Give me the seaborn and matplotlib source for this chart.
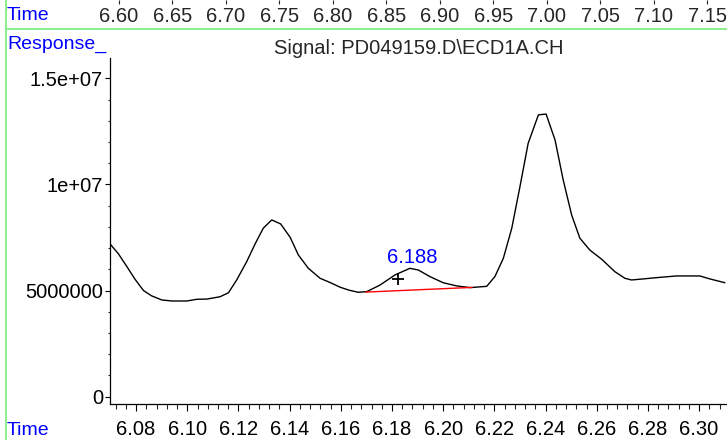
import matplotlib
matplotlib.use('Agg')
import matplotlib.pyplot as plt
import seaborn as sns
from matplotlib.lines import Line2D
from matplotlib.ticker import MultipleLocator, FuncFormatter

# chromatogram trace (time in min, response)
times = [6.0698, 6.0731, 6.0764, 6.0796, 6.0829, 6.0861, 6.0900, 6.0940, 6.0998,
         6.1037, 6.1076, 6.1128, 6.1161, 6.1193, 6.1232, 6.1265, 6.1297, 6.1330,
         6.1365, 6.1402, 6.1434, 6.1473, 6.1519, 6.1558, 6.1597, 6.1632, 6.1668,
         6.1701, 6.1753, 6.1812, 6.1870, 6.1903, 6.1948, 6.2000, 6.2053, 6.2105,
         6.2170, 6.2202, 6.2235, 6.2268, 6.2300, 6.2332, 6.2372, 6.2402, 6.2437,
         6.2469, 6.2502, 6.2534, 6.2573, 6.2619, 6.2671, 6.2710, 6.2736, 6.2782,
         6.2834, 6.2912, 6.3003, 6.3042, 6.3101]
response = [7.20e6, 6.73e6, 6.13e6, 5.53e6, 5.00e6, 4.75e6, 4.56e6, 4.51e6, 4.51e6,
            4.59e6, 4.60e6, 4.71e6, 4.90e6, 5.50e6, 6.36e6, 7.20e6, 7.94e6, 8.33e6,
            8.14e6, 7.51e6, 6.68e6, 6.05e6, 5.58e6, 5.38e6, 5.16e6, 5.02e6, 4.92e6,
            4.95e6, 5.26e6, 5.74e6, 6.05e6, 5.97e6, 5.66e6, 5.37e6, 5.22e6, 5.14e6,
            5.20e6, 5.66e6, 6.52e6, 7.94e6, 9.90e6, 11.94e6, 13.28e6, 13.32e6, 12.10e6,
            10.21e6, 8.56e6, 7.47e6, 6.91e6, 6.48e6, 5.89e6, 5.58e6, 5.50e6, 5.55e6,
            5.61e6, 5.69e6, 5.69e6, 5.55e6, 5.37e6]

peak_rt = 6.188
peak_label_y = 6.55e6
marker_rt = [6.1823]
marker_resp = [5.55e6]
baseline_rt = [6.1698, 6.2113]
baseline_resp = [4.93e6, 5.15e6]

top_ticks = [6.60, 6.65, 6.70, 6.75, 6.80, 6.85, 6.90, 6.95, 7.00, 7.05, 7.10, 7.15]
title = r'Signal: PD049159.D\ECD1A.CH'


def resp_fmt(v, pos):
    # ChemStation style: plain integers below 1e7, exponent form above
    if abs(v) < 1e7:
        return '%d' % round(v)
    return '%g' % v


sns.set_style('ticks')
plt.rcParams['font.family'] = ['Liberation Sans', 'DejaVu Sans']
fs = 14.5
green = '#90ee90'

W, H = 727, 440
fig = plt.figure(figsize=(W / 100, H / 100), dpi=100)

# main plot
ax = fig.add_axes([110 / W, 36 / H, 617 / W, 346 / H])
sns.lineplot(x=times, y=response, ax=ax, color='black', lw=1, sort=False, estimator=None)
ax.plot(baseline_rt, baseline_resp, color='red', lw=1)
ax.plot(marker_rt, marker_resp, marker='+', color='black', ms=9, mew=1.3, ls='none')
ax.text(peak_rt, peak_label_y, '6.188', color='blue', ha='center', va='center', fontsize=fs)

ax.set_xlim(6.0698, 6.3109)
ax.set_ylim(-0.344e6, 15.96e6)
ax.xaxis.set_major_locator(MultipleLocator(0.02))
ax.xaxis.set_minor_locator(MultipleLocator(0.004))
ax.yaxis.set_major_locator(MultipleLocator(5e6))
ax.yaxis.set_minor_locator(MultipleLocator(1e6))
ax.xaxis.set_major_formatter(FuncFormatter(lambda v, p: '%.2f' % v))
ax.yaxis.set_major_formatter(FuncFormatter(resp_fmt))
ax.set_xlabel('')
ax.set_ylabel('')
sns.despine(ax=ax)
for s in ('left', 'bottom'):
    ax.spines[s].set_color('black')
    ax.spines[s].set_linewidth(0.9)
ax.tick_params(axis='x', which='major', direction='out', length=5, width=0.8, pad=6.5,
               labelsize=fs, colors='black')
ax.tick_params(axis='x', which='minor', direction='out', length=3.5, width=0.8)
ax.tick_params(axis='y', which='major', direction='out', length=3.6, width=0.8, pad=1.5,
               labelsize=fs, colors='black')
ax.tick_params(axis='y', which='minor', direction='out', length=1.8, width=0.8)
ax.set_title(title, fontsize=fs, pad=2.5)

# overview time axis on top
ax_top = fig.add_axes([0, 1 - 30 / H, 1, 30 / H])
ax_top.patch.set_alpha(0)
ax_top.set_xlim(6.4887, 7.1687)
ax_top.set_xticks(top_ticks)
ax_top.set_xticklabels(['%.2f' % t for t in top_ticks])
ax_top.set_yticks([])
for s in ax_top.spines.values():
    s.set_visible(False)
ax_top.tick_params(axis='x', top=True, bottom=False, labeltop=False, labelbottom=True,
                   direction='in', length=3, width=0.8, pad=-16.5, labelsize=fs)

# green frame lines
fig.add_artist(Line2D([5.5 / W, 5.5 / W], [0, 1], transform=fig.transFigure, color=green, lw=1.5))
fig.add_artist(Line2D([5.5 / W, 1], [1 - 29.5 / H, 1 - 29.5 / H], transform=fig.transFigure,
                      color=green, lw=1.5))

fig.text(7 / W, 1 - 16 / H, 'Time', color='blue', fontsize=fs - 0.5, va='center')
fig.text(7 / W, 1 - 44 / H, 'Response_', color='blue', fontsize=fs - 0.5, va='center')
fig.text(7 / W, 1 - 430 / H, 'Time', color='blue', fontsize=fs - 0.5, va='center')

fig.savefig('out.png', dpi=100)
